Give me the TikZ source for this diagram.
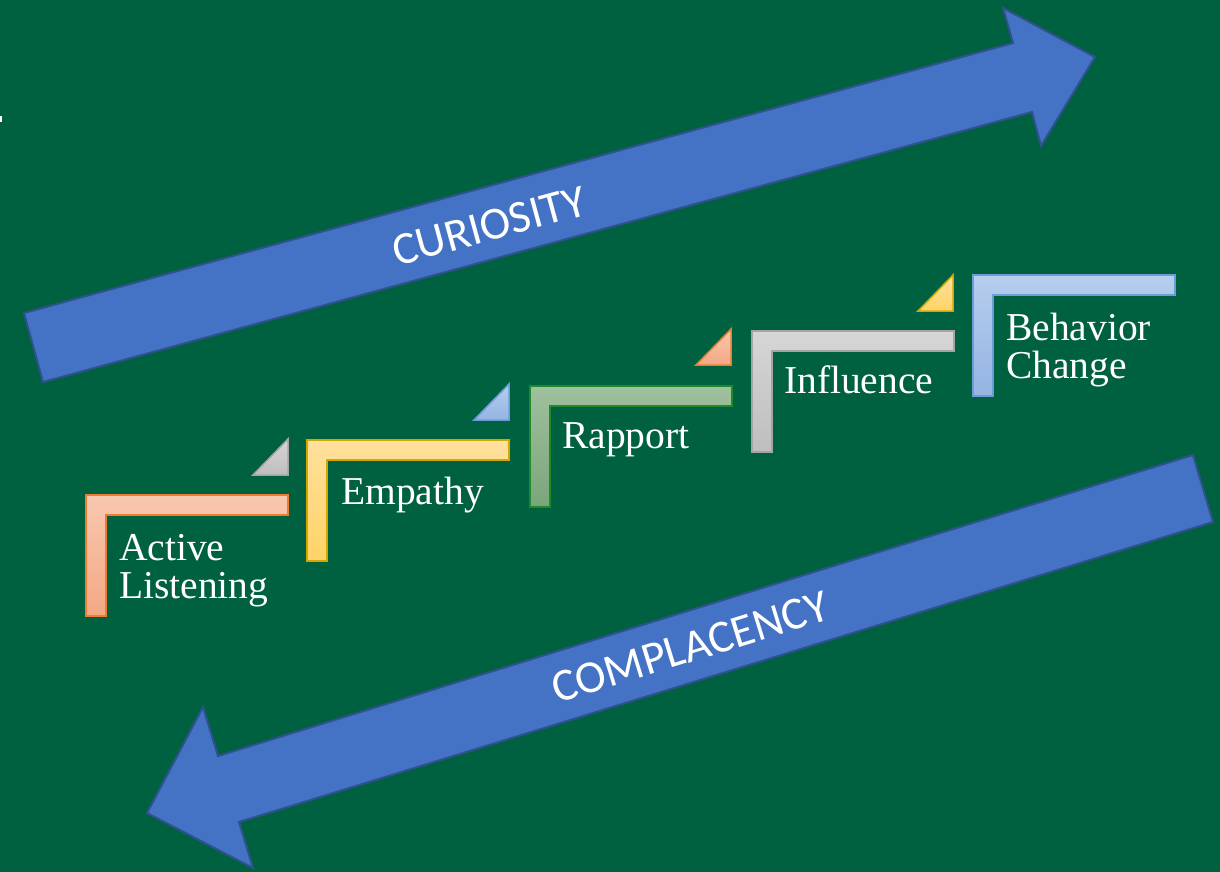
\documentclass[tikz,border=0pt]{standalone}
\usepackage{fontspec}
\setmainfont{Liberation Serif}
\newfontfamily\arrowfont{Carlito}
\definecolor{boardgreen}{RGB}{0,97,64}
\definecolor{arrowblue}{RGB}{68,114,196}
\definecolor{arrowedge}{RGB}{47,82,143}
% step colours: top, bottom, outline
\definecolor{peachT}{RGB}{248,200,176}\definecolor{peachB}{RGB}{244,168,132}\definecolor{peachO}{RGB}{237,125,49}
\definecolor{sandT}{RGB}{255,224,158}\definecolor{sandB}{RGB}{255,211,102}\definecolor{sandO}{RGB}{214,165,0}
\definecolor{sageT}{RGB}{160,192,158}\definecolor{sageB}{RGB}{122,165,122}\definecolor{sageO}{RGB}{31,138,42}
\definecolor{greyT}{RGB}{214,214,214}\definecolor{greyB}{RGB}{190,190,190}\definecolor{greyO}{RGB}{165,165,165}
\definecolor{skyT}{RGB}{182,206,238}\definecolor{skyB}{RGB}{148,180,226}\definecolor{skyO}{RGB}{110,156,214}
\tikzset{
  bigarrow/.style={fill=arrowblue, draw=arrowedge, line width=2pt, line join=miter},
  arrowlabel/.style={text=white, inner sep=0pt, font=\arrowfont\fontsize{46}{52}\selectfont},
  steplabel/.style={anchor=base west, align=left, text=white, inner sep=0pt,
    font=\fontsize{39.5}{38}\selectfont},
  stepshape/.style={line width=1.5pt, line join=miter},
}
% #1 left, #2 top, #3 colour prefix
\newcommand\stairstep[3]{%
  \path[stepshape, top color=#3T, bottom color=#3B, draw=#3O]
    (#1,#2) -- ++(202,0) -- ++(0,20) -- ++(-182,0) -- ++(0,101) -- ++(-20,0) -- cycle;}
% #1 left of the step below, #2 its top, #3 colour prefix
\newcommand\stairflag[3]{%
  \path[stepshape, top color=#3T, bottom color=#3B, draw=#3O]
    (#1+167,#2-20) -- (#1+202,#2-20) -- (#1+202,#2-56) -- cycle;}
\begin{document}
\begin{tikzpicture}[x=1pt,y=-1pt]
\useasboundingbox (0,0) rectangle (1220,872);
\fill[boardgreen] (0,0) rectangle (1220,872);
\fill[white] (0,116) rectangle (2,122);

% rising arrow
\draw[bigarrow] (24,313) -- (1013,43) -- (1003,8) -- (1095,57)
  -- (1041,146) -- (1032,112) -- (43,382) -- cycle;
\node[arrowlabel, rotate=15.23] (curiosity) at (489,226) {CURIOSITY};

% falling arrow
\draw[bigarrow] (1193,455) -- (218,756) -- (203,707) -- (147,813)
  -- (253,868) -- (239,822) -- (1213,522) -- cycle;
\node[arrowlabel, rotate=17.16] (complacency) at (690,647) {COMPLACENCY};

% staircase
\stairstep{86}{495}{peach}
\stairstep{307}{440}{sand}
\stairstep{530}{386}{sage}
\stairstep{752}{331}{grey}
\stairstep{973}{275}{sky}

\stairflag{86}{495}{grey}
\stairflag{307}{440}{sky}
\stairflag{529}{385}{peach}
\stairflag{751}{331}{sand}

% multi-line labels are anchored on their last baseline
\node[steplabel] (listening) at (119,598) {Active\\Listening};
\node[steplabel] (empathy) at (341,504) {Empathy};
\node[steplabel] (rapport) at (562,448) {Rapport};
\node[steplabel] (influence) at (784,393) {Influence};
\node[steplabel] (behavior) at (1006,378) {Behavior\\Change};
\end{tikzpicture}
\end{document}
